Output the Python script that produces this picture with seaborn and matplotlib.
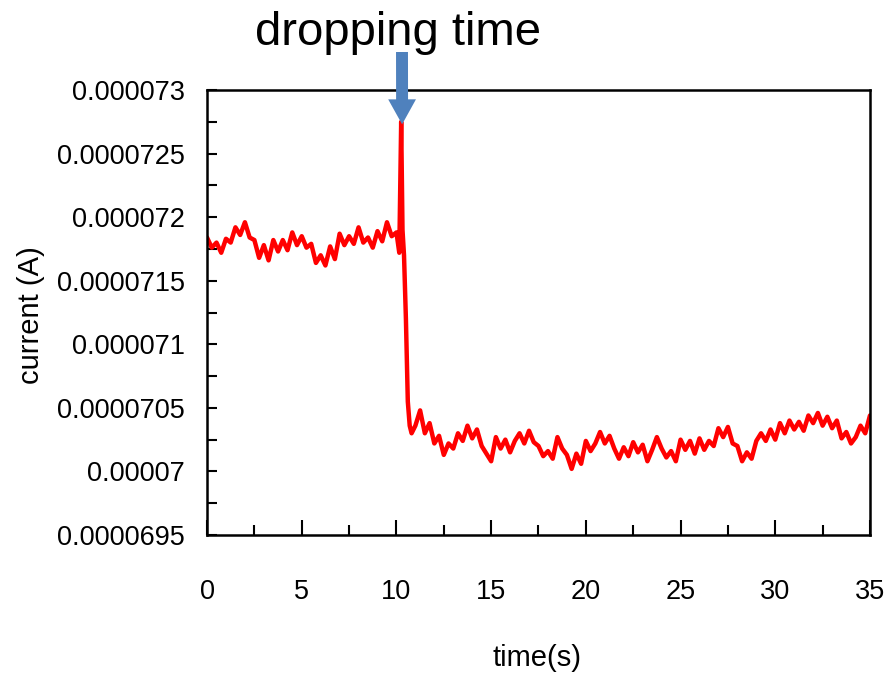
import numpy as np
import pandas as pd
import matplotlib
matplotlib.use("Agg")
import matplotlib.pyplot as plt
from matplotlib.ticker import MultipleLocator, FuncFormatter
import seaborn as sns

# time (s) and current (uA)
time_s = [
    0.00, 0.25, 0.50, 0.75, 1.00, 1.25, 1.50, 1.75, 2.00, 2.25,
    2.50, 2.75, 3.00, 3.25, 3.50, 3.75, 4.00, 4.25, 4.50, 4.75,
    5.00, 5.25, 5.50, 5.75, 6.00, 6.25, 6.50, 6.75, 7.00, 7.25,
    7.50, 7.75, 8.00, 8.25, 8.50, 8.75, 9.00, 9.25, 9.50, 9.75,
    10.00, 10.15, 10.25, 10.32, 10.40, 10.50, 10.60, 10.70, 10.80,
    11.00, 11.25, 11.50, 11.75, 12.00, 12.25, 12.50, 12.75, 13.00, 13.25,
    13.50, 13.75, 14.00, 14.25, 14.50, 14.75, 15.00, 15.25, 15.50, 15.75,
    16.00, 16.25, 16.50, 16.75, 17.00, 17.25, 17.50, 17.75, 18.00, 18.25,
    18.50, 18.75, 19.00, 19.25, 19.50, 19.75, 20.00, 20.25, 20.50, 20.75,
    21.00, 21.25, 21.50, 21.75, 22.00, 22.25, 22.50, 22.75, 23.00, 23.25,
    23.50, 23.75, 24.00, 24.25, 24.50, 24.75, 25.00, 25.25, 25.50, 25.75,
    26.00, 26.25, 26.50, 26.75, 27.00, 27.25, 27.50, 27.75, 28.00, 28.25,
    28.50, 28.75, 29.00, 29.25, 29.50, 29.75, 30.00, 30.25, 30.50, 30.75,
    31.00, 31.25, 31.50, 31.75, 32.00, 32.25, 32.50, 32.75, 33.00, 33.25,
    33.50, 33.75, 34.00, 34.25, 34.50, 34.75, 35.00,
]
current_uA = [
    71.84, 71.76, 71.80, 71.72, 71.83, 71.80, 71.92, 71.86, 71.96, 71.84,
    71.82, 71.68, 71.78, 71.66, 71.82, 71.73, 71.82, 71.74, 71.88, 71.78,
    71.85, 71.76, 71.79, 71.64, 71.70, 71.62, 71.77, 71.67, 71.87, 71.78,
    71.85, 71.79, 71.92, 71.80, 71.84, 71.76, 71.89, 71.81, 71.96, 71.85,
    71.88, 71.72, 72.75, 71.90, 71.70, 71.20, 70.55, 70.36, 70.30,
    70.36, 70.48, 70.30, 70.38, 70.22, 70.28, 70.13, 70.22, 70.18, 70.30,
    70.24, 70.36, 70.26, 70.33, 70.20, 70.14, 70.08, 70.27, 70.18, 70.25,
    70.15, 70.24, 70.30, 70.22, 70.32, 70.23, 70.20, 70.12, 70.16, 70.10,
    70.27, 70.18, 70.13, 70.02, 70.14, 70.06, 70.24, 70.16, 70.22, 70.31,
    70.22, 70.28, 70.18, 70.10, 70.19, 70.12, 70.23, 70.15, 70.21, 70.08,
    70.17, 70.27, 70.18, 70.11, 70.16, 70.08, 70.25, 70.17, 70.24, 70.14,
    70.26, 70.17, 70.24, 70.20, 70.34, 70.27, 70.35, 70.22, 70.20, 70.08,
    70.15, 70.10, 70.24, 70.30, 70.24, 70.33, 70.25, 70.38, 70.30, 70.40,
    70.33, 70.39, 70.32, 70.44, 70.38, 70.46, 70.36, 70.43, 70.34, 70.40,
    70.26, 70.31, 70.22, 70.27, 70.36, 70.30, 70.44,
]

df = pd.DataFrame({"time": time_s, "current": np.array(current_uA) * 1e-6})

sns.set_theme(style="white")
plt.rcParams['font.family'] = ['Liberation Sans', 'DejaVu Sans']

fig = plt.figure(figsize=(8.87, 6.83), dpi=100)
ax = fig.add_axes([0.2334, 0.2167, 0.7474, 0.6515])

sns.lineplot(data=df, x="time", y="current", color="#ff0000", lw=3.2,
             sort=False, ax=ax)

ax.set_xlim(0, 35)
ax.set_ylim(0.0000695, 0.000073)
ax.xaxis.set_major_locator(MultipleLocator(5))
ax.xaxis.set_minor_locator(MultipleLocator(2.5))
ax.yaxis.set_major_locator(MultipleLocator(0.0000005))
ax.yaxis.set_minor_locator(MultipleLocator(0.00000025))
ax.yaxis.set_major_formatter(FuncFormatter(lambda v, p: ('%.7f' % v).rstrip('0')))

for s in ax.spines.values():
    s.set_color("black")
    s.set_linewidth(1.8)

ax.tick_params(axis='x', which='major', direction='in', length=11, width=1.5,
               color='black', labelsize=19.5, pad=32, labelcolor='black')
ax.tick_params(axis='x', which='minor', direction='in', length=7, width=1.5, color='black')
ax.tick_params(axis='y', which='major', direction='in', length=7, width=1.5,
               color='black', labelsize=19.5, pad=16, labelcolor='black')
ax.tick_params(axis='y', which='minor', direction='in', length=7, width=1.5, color='black')
ax.tick_params(bottom=True, left=True, which='both')

ax.set_xlabel("time(s)", fontsize=21, color='black')
ax.set_ylabel("current (A)", fontsize=21, color='black')
ax.xaxis.set_label_coords(0.498, -0.245)
ax.yaxis.set_label_coords(-0.245, 0.494)

# arrow marking the drop
ax.annotate("", xy=(10.3, 0.00007273), xycoords='data',
            xytext=(402, 683 - 52), textcoords='figure pixels',
            arrowprops=dict(arrowstyle="simple,head_length=0.9,head_width=1.0,tail_width=0.43",
                            mutation_scale=20, fc="#4f81bd", ec="none",
                            shrinkA=0, shrinkB=0),
            annotation_clip=False)
fig.text(398 / 887, 1 - 45 / 683, "dropping time", fontsize=34,
         family=['Liberation Sans', 'DejaVu Sans'], ha='center', va='baseline',
         color='black')

fig.savefig("out.png", dpi=100, facecolor='white')
